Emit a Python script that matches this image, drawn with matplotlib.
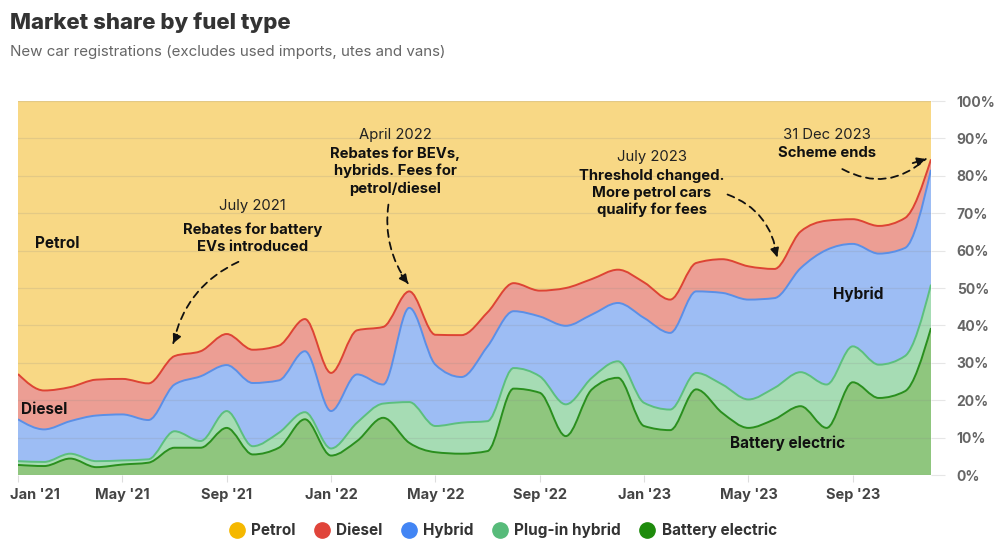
import matplotlib
matplotlib.use("Agg")
import matplotlib.pyplot as plt
from matplotlib.lines import Line2D
from matplotlib.path import Path
from matplotlib.patches import PathPatch
from matplotlib.transforms import ScaledTranslation
import numpy as np

plt.rcParams['font.family'] = ['Inter', 'DejaVu Sans']

months = ["Jan '21", "Feb '21", "Mar '21", "Apr '21", "May '21", "Jun '21", "Jul '21", "Aug '21",
          "Sep '21", "Oct '21", "Nov '21", "Dec '21", "Jan '22", "Feb '22", "Mar '22", "Apr '22",
          "May '22", "Jun '22", "Jul '22", "Aug '22", "Sep '22", "Oct '22", "Nov '22", "Dec '22",
          "Jan '23", "Feb '23", "Mar '23", "Apr '23", "May '23", "Jun '23", "Jul '23", "Aug '23",
          "Sep '23", "Oct '23", "Nov '23", "Dec '23"]

battery_electric = [2.7, 2.4, 4.4, 2.1, 2.8, 3.3, 7.3, 7.3, 12.6, 5.5, 7.3, 14.9,
                    5.2, 9.1, 15.3, 8.6, 6.1, 5.7, 6.4, 23.1, 22.0, 10.4, 22.9, 26.0,
                    13.1, 12.0, 22.9, 16.6, 12.6, 14.9, 18.4, 12.6, 24.8, 20.6, 22.4, 39.3]
plugin_hybrid = [1.0, 1.1, 1.3, 1.6, 1.1, 0.9, 4.4, 1.8, 4.5, 2.2, 4.0, 1.9,
                 1.9, 4.9, 3.8, 10.9, 7.0, 8.3, 8.0, 5.5, 4.4, 8.5, 3.1, 4.4,
                 6.2, 5.5, 4.4, 7.6, 7.6, 8.4, 9.1, 11.6, 9.6, 8.9, 9.4, 11.6]
hybrid = [11.2, 8.7, 8.7, 12.2, 12.3, 10.5, 12.5, 17.3, 12.3, 16.9, 14.0, 16.3,
          10.0, 12.9, 5.1, 25.2, 16.4, 12.2, 20.0, 15.2, 16.0, 21.0, 16.9, 15.6,
          22.7, 20.5, 21.8, 24.5, 26.7, 24.0, 27.8, 36.0, 27.4, 29.7, 28.9, 30.7]
diesel = [12.1, 10.4, 9.1, 9.6, 9.5, 9.8, 7.6, 6.7, 8.3, 8.9, 9.3, 8.6,
          10.2, 11.8, 15.4, 4.4, 8.0, 11.2, 9.1, 7.5, 6.9, 10.1, 9.5, 8.9,
          9.5, 8.9, 7.6, 9.0, 8.9, 7.8, 9.8, 7.8, 6.6, 7.4, 8.0, 2.8]
petrol = [73.0, 77.4, 76.5, 74.5, 74.3, 75.5, 68.2, 66.9, 62.3, 66.5, 65.4, 58.3,
          72.7, 61.3, 60.4, 50.9, 62.5, 62.6, 56.5, 48.7, 50.7, 50.0, 47.6, 45.1,
          48.5, 53.1, 43.3, 42.3, 44.2, 44.9, 34.9, 32.0, 31.6, 33.4, 31.3, 15.6]

series_names = ["Battery electric", "Plug-in hybrid", "Hybrid", "Diesel", "Petrol"]
series_vals = [battery_electric, plugin_hybrid, hybrid, diesel, petrol]
fill_colors = ["#8fc67e", "#a6dcb4", "#9dbdf4", "#ec9e94", "#f8d885"]
line_colors = ["#2a8f1e", "#5cbf7e", "#5b8fe6", "#dd4434", "#f2c14a"]
legend_colors = {"Petrol": "#f5b800", "Diesel": "#e0443a", "Hybrid": "#4285f4",
                 "Plug-in hybrid": "#57bb7a", "Battery electric": "#1e8b0c"}

x = np.arange(len(months), dtype=float)


def mono_tangents(xs, ys):
    n = len(xs)
    h = np.diff(xs)
    s = np.diff(ys) / h
    m = np.zeros(n)
    for i in range(1, n - 1):
        s0, s1 = s[i - 1], s[i]
        h0, h1 = h[i - 1], h[i]
        p = (s0 * h1 + s1 * h0) / (h0 + h1)
        m[i] = (np.sign(s0) + np.sign(s1)) * min(abs(s0), abs(s1), 0.5 * abs(p))
    m[0] = (3 * s[0] - m[1]) / 2
    m[-1] = (3 * s[-1] - m[-2]) / 2
    return m


def curve_segments(xs, ys):
    """Cubic Bezier segments (monotone-x curve) through the data points."""
    m = mono_tangents(xs, ys)
    segs = []
    for i in range(len(xs) - 1):
        h = xs[i + 1] - xs[i]
        segs.append(((xs[i], ys[i]),
                     (xs[i] + h / 3, ys[i] + m[i] * h / 3),
                     (xs[i + 1] - h / 3, ys[i + 1] - m[i + 1] * h / 3),
                     (xs[i + 1], ys[i + 1])))
    return segs


def line_path(xs, ys):
    segs = curve_segments(xs, ys)
    verts = [segs[0][0]]
    codes = [Path.MOVETO]
    for a, c1, c2, b in segs:
        verts += [c1, c2, b]
        codes += [Path.CURVE4] * 3
    return Path(verts, codes)


def area_path(xs, lo, hi):
    top = curve_segments(xs, hi)
    bot = curve_segments(xs, lo)
    verts = [top[0][0]]
    codes = [Path.MOVETO]
    for a, c1, c2, b in top:
        verts += [c1, c2, b]
        codes += [Path.CURVE4] * 3
    verts.append(bot[-1][3])
    codes.append(Path.LINETO)
    for a, c1, c2, b in reversed(bot):
        verts += [c2, c1, a]
        codes += [Path.CURVE4] * 3
    verts.append(top[0][0])
    codes.append(Path.CLOSEPOLY)
    return Path(verts, codes)


fig = plt.figure(figsize=(10, 5.46), dpi=100)
ax = fig.add_axes([0.018, 0.130, 0.913, 0.685])

base = np.zeros(len(months))
for name, vals, fc, lc in zip(series_names, series_vals, fill_colors, line_colors):
    top = base + np.array(vals)
    ax.add_patch(PathPatch(area_path(x, base, top), facecolor=fc, edgecolor='none', lw=0, zorder=1))
    if name != "Petrol":
        ax.add_patch(PathPatch(line_path(x, top), facecolor='none', edgecolor=lc, lw=1.4, zorder=3))
    base = top

ax.set_xlim(0, len(months) - 1)
ax.set_ylim(0, 100)

# grid
for v in range(0, 101, 10):
    ax.axhline(v, color="#888888", alpha=0.18, lw=0.9, zorder=2)

for s in ax.spines.values():
    s.set_visible(False)

tick_idx = list(range(0, len(months), 4))
ax.set_xticks(tick_idx)
ax.set_xticklabels([months[i] for i in tick_idx], fontsize=10.5, fontweight='bold', color="#444444")
ax.tick_params(axis='x', length=5, color="#dddddd", pad=4)
first = ax.get_xticklabels()[0]
first.set_horizontalalignment('left')
first.set_transform(first.get_transform() + ScaledTranslation(-0.08, 0, fig.dpi_scale_trans))

ax.yaxis.tick_right()
ax.set_yticks(range(0, 101, 10))
ax.set_yticklabels([f"{v}%" for v in range(0, 101, 10)], fontsize=10, fontweight='bold', color="#666666")
ax.tick_params(axis='y', length=10, color="#e6e6e6", pad=8.5)

# series labels
lab_kw = dict(fontsize=11, fontweight='bold', color="#111111", zorder=5)
ax.text(0.65, 62.0, "Petrol", ha='left', va='center', **lab_kw)
ax.text(0.1, 17.5, "Diesel", ha='left', va='center', **lab_kw)
ax.text(32.2, 48.3, "Hybrid", ha='center', va='center', **lab_kw)
ax.text(29.5, 8.6, "Battery electric", ha='center', va='center', **lab_kw)


# annotations
def note(xc, y_date, y_body, date, body):
    ax.text(xc, y_date, date, ha='center', va='center', fontsize=10.7, color="#222222", zorder=5)
    ax.text(xc, y_body, body, ha='center', va='center', fontsize=10.7, fontweight='bold',
            color="#111111", linespacing=1.25, zorder=5)


def dashed_arrow(start, end, rad, head_from):
    ax.annotate("", xy=end, xytext=start,
                arrowprops=dict(arrowstyle='-', linestyle=(0, (4, 3)), color="#111111", lw=1.3,
                                connectionstyle=f"arc3,rad={rad}", shrinkA=0, shrinkB=0), zorder=6)
    ax.annotate("", xy=end, xytext=head_from,
                arrowprops=dict(arrowstyle='-|>,head_length=0.5,head_width=0.25', color="#111111", lw=1.3,
                                shrinkA=0, shrinkB=0), zorder=6)


note(9.0, 71.8, 63.4, "July 2021", "Rebates for battery\nEVs introduced")
dashed_arrow((8.45, 57.0), (5.95, 35.2), 0.25, (6.1, 37.5))

note(14.45, 91.0, 81.3, "April 2022", "Rebates for BEVs,\nhybrids. Fees for\npetrol/diesel")
dashed_arrow((14.2, 72.3), (14.95, 51.2), 0.2, (14.7, 53.5))

note(24.3, 84.9, 75.3, "July 2023", "Threshold changed.\nMore petrol cars\nqualify for fees")
dashed_arrow((27.2, 75.0), (29.1, 58.3), -0.3, (29.0, 60.8))

note(31.0, 90.8, 86.0, "31 Dec 2023", "Scheme ends")
dashed_arrow((31.6, 81.8), (34.8, 84.5), 0.35, (34.3, 83.4))

# titles
fig.text(0.010, 0.958, "Market share by fuel type", fontsize=16, fontweight='heavy', color="#333333",
         ha='left', va='center')
fig.text(0.010, 0.905, "New car registrations (excludes used imports, utes and vans)", fontsize=10.9,
         color="#666666", ha='left', va='center')

# legend
order = ["Petrol", "Diesel", "Hybrid", "Plug-in hybrid", "Battery electric"]
handles = [Line2D([0], [0], marker='o', ls='none', markersize=11, markerfacecolor=legend_colors[n],
                  markeredgecolor=legend_colors[n]) for n in order]
leg = fig.legend(handles, order, loc='center', bbox_to_anchor=(0.503, 0.029), ncol=5, frameon=False,
                 handlelength=1.0, handletextpad=0.45, columnspacing=1.2,
                 prop=dict(size=11, weight='bold'))
for t in leg.get_texts():
    t.set_color("#333333")

fig.savefig("out.png", dpi=100, facecolor="white")
